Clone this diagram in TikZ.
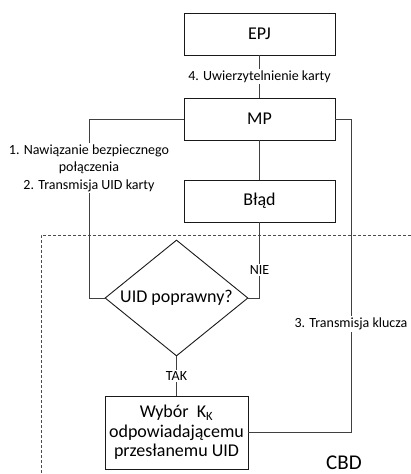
\documentclass[tikz,border=0pt]{standalone}
\usepackage{fontspec}
\setmainfont{Carlito}
\usepackage{tikz}
\usetikzlibrary{positioning,shapes.geometric}
\tikzset{
  cbbox/.style={rectangle, draw=black!90, line width=0.9pt, minimum width=151pt,
                minimum height=42pt, inner sep=0pt, font=\fontsize{18}{19.5}\selectfont},
  cbdec/.style={diamond, draw=black!90, line width=0.9pt, minimum width=143pt,
                minimum height=116pt, inner sep=0pt, aspect=1.23,
                font=\fontsize{18}{19.5}\selectfont},
  cblink/.style={draw=black!75, line width=0.8pt},
  cblab/.style={font=\fontsize{14}{17.5}\selectfont, fill=white, inner sep=1.5pt,
                align=center},
  cbzone/.style={draw=black!70, line width=0.7pt, dashed, dash pattern=on 3pt off 2pt},
}

\begin{document}
\begin{tikzpicture}[x=1pt,y=-1pt]
  \useasboundingbox (0,0) rectangle (411,474);
  % strefa CBD
  \draw[cbzone] (411,235) -- (41,235) -- (41,474);
  \node[font=\fontsize{21}{24}\selectfont, anchor=base, inner sep=0pt] (cbd) at (344,469) {CBD};

  \node[cbbox] (EPJ) at (259.5,34) {EPJ};
  \node[cbbox] (MP) at (259.5,119) {MP};
  \node[cbbox] (BLAD) at (259.5,201) {Błąd};
  \node[cbdec] (UID) at (176.5,298) {UID poprawny?};
  \node[cbbox, minimum width=143pt, minimum height=73pt, align=center]
    (WYB) at (176.5,432.5) {Wybór~ K\textsubscript{K}\\odpowiadającemu\\przesłanemu UID};

  \coordinate (lt) at (89,119);
  \coordinate (lb) at (89,298);
  \coordinate (rt) at (351,119);
  \coordinate (rb) at (351,432.5);
  \coordinate (nb) at (259.5,298);

  \draw[cblink] (EPJ) -- node[cblab]{4. Uwierzytelnienie karty} (MP);
  \draw[cblink] (MP) -- (BLAD);
  \draw[cblink] (MP.west) -- (lt) -- node[cblab, pos=0.274]{1. Nawiązanie bezpiecznego\\połączenia\\2. Transmisja UID karty} (lb) -- (UID.west);
  \draw[cblink] (BLAD) -- node[cblab, pos=0.63]{NIE} (nb) -- (UID.east);
  \draw[cblink] (UID) -- node[cblab]{TAK} (WYB);
  \draw[cblink] (MP.east) -- (rt) -- node[cblab, pos=0.654]{3. Transmisja klucza} (rb) -- (WYB.east);
\end{tikzpicture}
\end{document}
